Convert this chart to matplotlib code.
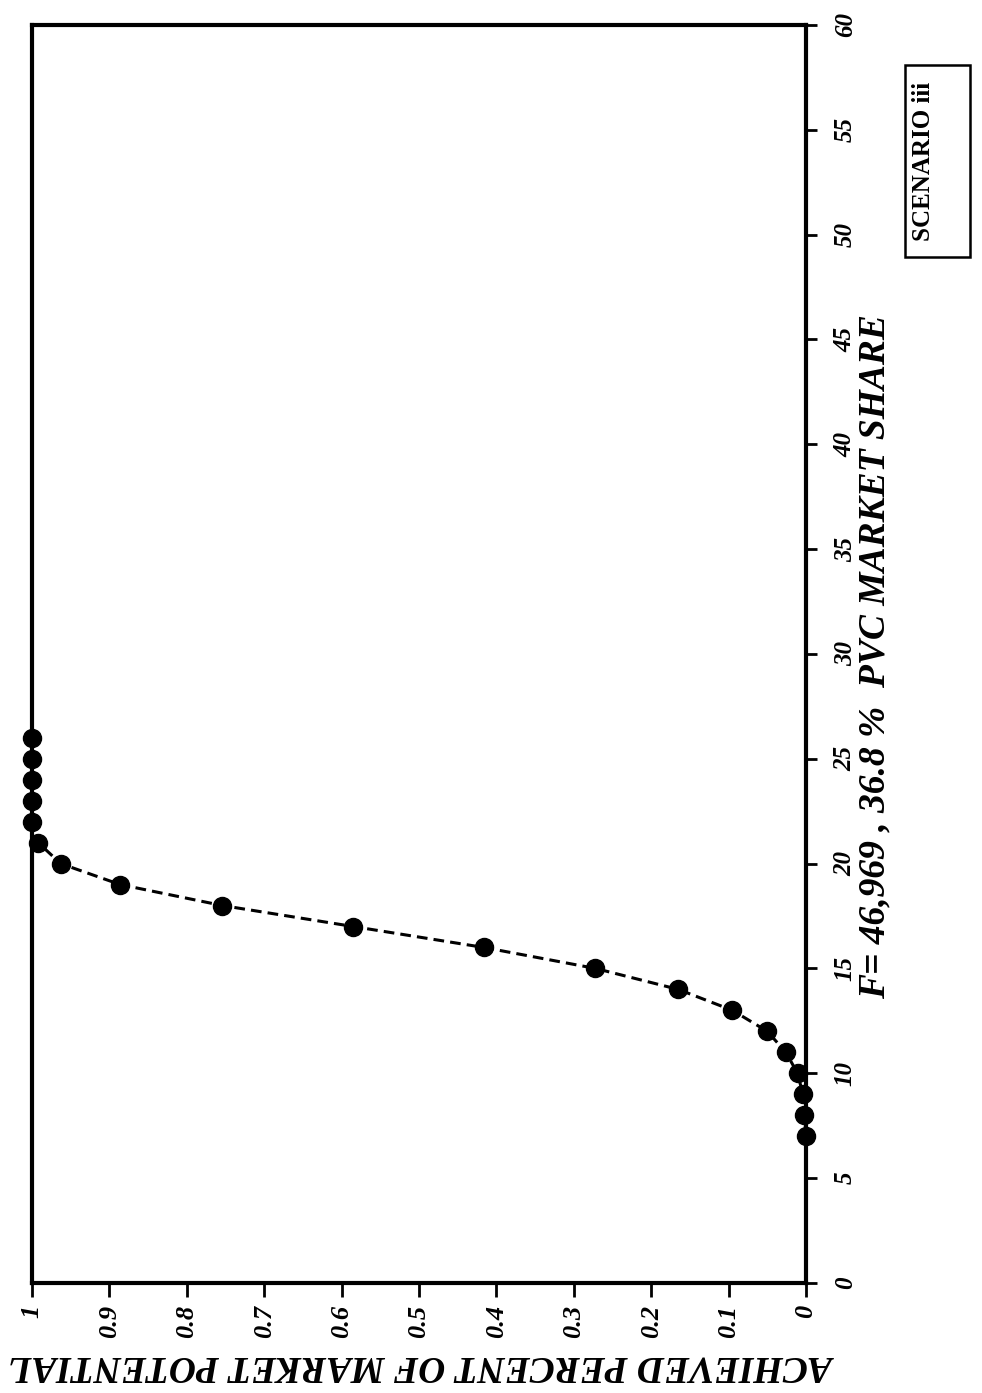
import matplotlib
matplotlib.use("Agg")
import matplotlib.pyplot as plt
from matplotlib.patches import Rectangle

# market share (%) and achieved fraction of market potential
market_share = [7, 8, 9, 10, 11, 12, 13, 14, 15, 16, 17, 18, 19, 20, 21, 22, 23, 24, 25, 26]
achieved = [0.0, 0.002, 0.004, 0.011, 0.026, 0.05, 0.095, 0.165, 0.272, 0.416,
            0.585, 0.754, 0.886, 0.963, 0.992, 1.0, 1.0, 1.0, 1.0, 1.0]

share_ticks = list(range(0, 61, 5))
achieved_ticks = [1, 0.9, 0.8, 0.7, 0.6, 0.5, 0.4, 0.3, 0.2, 0.1, 0]
achieved_labels = ['1', '0.9', '0.8', '0.7', '0.6', '0.5', '0.4', '0.3', '0.2', '0.1', '0']

serif = 'Liberation Serif'

fig = plt.figure(figsize=(9.82, 13.93), dpi=100)
ax = fig.add_axes([0.0326, 0.079, 0.7882, 0.9031])

# page is turned 90 degrees: share runs up the page, achieved runs right-to-left
ax.plot(achieved, market_share, color='black', linestyle=(0, (3.5, 2)), linewidth=2.2,
        marker='o', markersize=13, markerfacecolor='black', markeredgecolor='black',
        clip_on=False, zorder=3)

ax.set_xlim(1, 0)
ax.set_ylim(0, 60)

for sp in ax.spines.values():
    sp.set_linewidth(3)

ax.yaxis.tick_right()
ax.set_yticks(share_ticks)
ax.set_yticklabels([str(t) for t in share_ticks], rotation=90, va='center',
                   fontfamily=serif, fontweight='bold', fontstyle='italic', fontsize=18)
ax.set_xticks(achieved_ticks)
ax.set_xticklabels(achieved_labels, rotation=90, va='top', ha='center',
                   fontfamily=serif, fontweight='bold', fontstyle='italic', fontsize=19)
ax.tick_params(axis='y', direction='out', length=8, width=2, pad=12)
ax.tick_params(axis='x', direction='out', length=10, width=2, pad=6)

fig.text(875 / 982, 1 - 657 / 1393, 'F= 46,969 , 36.8 %  PVC MARKET SHARE',
         rotation=90, ha='center', va='center', fontfamily=serif,
         fontweight='bold', fontstyle='italic', fontsize=27)
fig.text(424 / 982, 1 - 1366 / 1393, 'ACHIEVED PERCENT OF MARKET POTENTIAL',
         rotation=180, ha='center', va='center', fontfamily=serif,
         fontweight='bold', fontstyle='italic', fontsize=27)

# scenario box, text sits towards the left edge of the frame
fig.patches.append(Rectangle((905 / 982, 1 - 257 / 1393), 65 / 982, 192 / 1393,
                             transform=fig.transFigure, facecolor='white',
                             edgecolor='black', linewidth=1.8))
fig.text(924 / 982, 1 - 161 / 1393, 'SCENARIO iii', rotation=90, ha='center',
         va='center', fontfamily=serif, fontweight='bold', fontsize=18)

fig.savefig('out.png', dpi=100)
plt.close(fig)
